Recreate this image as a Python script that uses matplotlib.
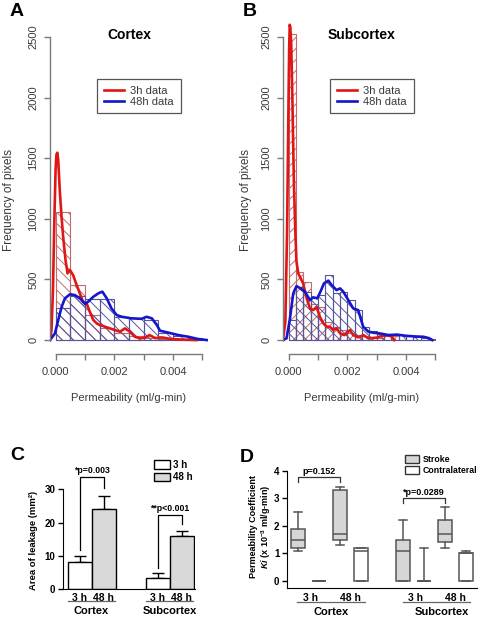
import numpy as np
import matplotlib
matplotlib.use("Agg")
import matplotlib.pyplot as plt
from matplotlib.patches import Patch
from matplotlib.lines import Line2D

plt.rcParams['font.family'] = ['Liberation Sans', 'DejaVu Sans']
plt.rcParams['mathtext.fontset'] = 'custom'
plt.rcParams['mathtext.rm'] = 'Liberation Sans:bold'
plt.rcParams['mathtext.it'] = 'Liberation Sans:bold:italic'
plt.rcParams['mathtext.default'] = 'rm'
plt.rcParams['hatch.linewidth'] = 0.7

# ---- panel A: cortex histograms + density lines
cortex_edges = [0.0, 0.0005, 0.001, 0.0015, 0.002, 0.0025, 0.003, 0.0035, 0.004, 0.0045, 0.005]
cortex_3h_counts = [1060, 455, 210, 100, 62, 30, 15, 8, 5, 2]
cortex_48h_counts = [268, 360, 335, 338, 190, 180, 168, 55, 35, 18]

cortex_3h_x = [-0.0002, -0.00015, -0.0001, -0.00005, -0.00001, 0.00002, 0.00005, 0.00008, 0.00011, 0.00014,
               0.0002, 0.00025, 0.00033, 0.0004, 0.00048, 0.00059, 0.00071, 0.00082, 0.00093, 0.00105,
               0.00116, 0.00128, 0.0014, 0.0015, 0.00168, 0.00185, 0.00202, 0.00219, 0.00236, 0.00253,
               0.0027, 0.00288, 0.00305, 0.0032, 0.0034, 0.00362, 0.00396, 0.0044, 0.0048]
cortex_3h_y = [0, 80, 400, 1000, 1400, 1530, 1545, 1490, 1350, 1210,
               1000, 852, 660, 550, 578, 536, 454, 385, 316, 303,
               234, 165, 137, 124, 110, 96, 82, 69, 96, 69,
               27, 14, 20, 41, 16, 22, 8, 3, 0]
cortex_48h_x = [-0.0002, -0.00003, 0.00008, 0.0002, 0.00031, 0.00048, 0.00065, 0.00082, 0.001, 0.0011,
                0.00128, 0.00145, 0.00159, 0.00174, 0.0019, 0.00208, 0.00225, 0.00259, 0.00293, 0.0031,
                0.00328, 0.00345, 0.00356, 0.00385, 0.00419, 0.00453, 0.00487, 0.00516]
cortex_48h_y = [0, 55, 165, 275, 344, 377, 371, 344, 297, 316,
                357, 385, 399, 344, 261, 206, 192, 179, 175, 192,
                179, 124, 77, 61, 41, 27, 8, 0]

# ---- panel B: subcortex
sub_edges = [0.0, 0.00025, 0.0005, 0.00075, 0.001, 0.00125, 0.0015, 0.00175, 0.002, 0.00225, 0.0025,
             0.00275, 0.003, 0.00325, 0.0035, 0.00375, 0.004, 0.00425, 0.0045, 0.00475, 0.005]
sub_3h_counts = [2520, 560, 480, 300, 270, 150, 110, 85, 60, 45, 35, 20, 20, 35, 30, 0, 0, 0, 0, 0]
sub_48h_counts = [165, 440, 395, 355, 370, 540, 390, 400, 330, 245, 105, 72, 60, 50, 42, 40, 30, 25, 15, 5]

sub_3h_x = [-0.0002, -0.00012, -0.00006, -0.00002, 0.00001, 0.00003, 0.00005, 0.00008, 0.00012, 0.00017,
            0.00022, 0.00026, 0.00032, 0.00049, 0.00061, 0.00072, 0.00083, 0.00095, 0.00106, 0.00118,
            0.0013, 0.0014, 0.00152, 0.00163, 0.00175, 0.0019, 0.00209, 0.0022, 0.00238, 0.00255,
            0.00272, 0.003, 0.0032, 0.0034, 0.0035, 0.0036]
sub_3h_y = [0, 150, 900, 1800, 2400, 2600, 2580, 2450, 2000, 1320,
            900, 650, 550, 467, 344, 261, 247, 270, 192, 137,
            110, 110, 82, 96, 55, 41, 82, 41, 22, 41,
            14, 20, 35, 40, 30, 0]
sub_48h_x = [-0.0002, -0.00008, 0.00003, 0.00015, 0.00026, 0.0004, 0.00055, 0.00072, 0.00083, 0.00097,
             0.00108, 0.0012, 0.00135, 0.00146, 0.00163, 0.00175, 0.00186, 0.00203, 0.0022, 0.00237,
             0.00254, 0.00272, 0.0029, 0.0031, 0.0034, 0.0037, 0.004, 0.0043, 0.0046, 0.0048, 0.0049]
sub_48h_y = [0, 14, 165, 385, 445, 426, 399, 330, 352, 344,
             399, 467, 490, 454, 412, 426, 399, 330, 261, 247,
             110, 69, 60, 55, 41, 45, 35, 30, 27, 15, 0]

# ---- panel C: area of leakage (mean, sem)
c_regions = ['Cortex', 'Subcortex']
c_mean_3h = [8.1, 3.3]
c_err_3h = [1.7, 1.5]
c_mean_48h = [24.1, 15.8]
c_err_48h = [4.0, 1.5]
c_pvals = ['*p=0.003', '**p<0.001']

# ---- panel D: Ki box stats (stroke / contralateral, 3h & 48h, cortex & subcortex)
d_q1 = [1.2, 0, 1.5, 0, 0, 0, 1.4, 0]
d_med = [1.5, 0, 1.7, 1.1, 1.1, 0, 1.7, 1.0]
d_q3 = [1.9, 0, 3.3, 1.2, 1.5, 0, 2.2, 1.0]
d_lo = [1.1, 0, 1.3, 0, 0, 0, 1.2, 0]
d_hi = [2.5, 0, 3.4, 1.2, 2.2, 1.2, 2.7, 1.1]
d_stroke = [True, False, True, False, True, False, True, False]
d_pvals = ['p=0.152', '*p=0.0289']

W, H = 479, 617
fig = plt.figure(figsize=(W / 100, H / 100), dpi=100)


def box(l, t, r, b):
    return [l / W, 1 - b / H, (r - l) / W, (b - t) / H]


def fx(px):
    return px / W


def fy(py):
    return 1 - py / H


GREY = '#7a7a7a'
TXT = '#3a3a3a'


def hist_panel(ax, edges, c3, c48, x3, y3, x48, y48, hatch3, title):
    edges = np.array(edges)
    ax.bar(edges[:-1], c3, width=np.diff(edges), align='edge', fill=False,
           edgecolor='#c46a6a', hatch=hatch3, linewidth=0.8)
    ax.bar(edges[:-1], c48, width=np.diff(edges), align='edge', fill=False,
           edgecolor='#55559c', hatch='\\\\\\', linewidth=0.8)
    ax.plot(x3, y3, color='#e01515', lw=1.9, solid_joinstyle='round')
    ax.plot(x48, y48, color='#1515cc', lw=1.9, solid_joinstyle='round')
    ax.set_xlim(-0.0002, 0.0052)
    ax.set_ylim(-115, 2722)
    for s in ['top', 'right']:
        ax.spines[s].set_visible(False)
    for s in ['left', 'bottom']:
        ax.spines[s].set_color(GREY)
        ax.spines[s].set_linewidth(1.0)
    ax.spines['left'].set_bounds(0, 2500)
    ax.spines['bottom'].set_bounds(0, 0.005)
    ax.set_xticks([0, 0.001, 0.002, 0.003, 0.004, 0.005])
    ax.set_xticklabels(['0.000', '', '0.002', '', '0.004', ''])
    ax.set_yticks([0, 500, 1000, 1500, 2000, 2500])
    ax.tick_params(axis='both', direction='out', length=4.3, width=1, color=GREY,
                   labelcolor=TXT, labelsize=8)
    ax.tick_params(axis='x', pad=5)
    ax.tick_params(axis='y', labelrotation=90, pad=4)
    for lab in ax.get_yticklabels():
        lab.set_va('center')
    ax.set_facecolor('none')
    ax.set_title(title, fontsize=10, fontweight='bold', pad=0, y=0.915)
    handles = [Line2D([], [], color='#e01515', lw=1.9), Line2D([], [], color='#1515cc', lw=1.9)]
    return handles


ax_a = fig.add_axes(box(50, 10, 208, 354))
ax_b = fig.add_axes(box(283, 10, 441, 354))
h = hist_panel(ax_a, cortex_edges, cortex_3h_counts, cortex_48h_counts,
               cortex_3h_x, cortex_3h_y, cortex_48h_x, cortex_48h_y, '\\\\\\', 'Cortex')
hist_panel(ax_b, sub_edges, sub_3h_counts, sub_48h_counts,
           sub_3h_x, sub_3h_y, sub_48h_x, sub_48h_y, '///', 'Subcortex')

for ax, x0 in [(ax_a, 97), (ax_b, 330)]:
    leg = ax.legend(h, ['3h data', '48h data'], loc='upper left', bbox_to_anchor=(fx(x0), fy(79)),
                    bbox_transform=fig.transFigure, borderaxespad=0, fancybox=False, framealpha=1,
                    edgecolor='#555555', fontsize=8, handlelength=1.8, labelspacing=0.1,
                    borderpad=0.6, handletextpad=0.6)
    leg.get_frame().set_linewidth(0.9)
    for t in leg.get_texts():
        t.set_color(TXT)

for x in [9, 246]:
    fig.text(fx(x), fy(200), 'Frequency of pixels', rotation=90, ha='center', va='center',
             fontsize=8.5, color=TXT)
for x in [129, 362]:
    fig.text(fx(x), fy(398), 'Permeability (ml/g-min)', ha='center', va='center',
             fontsize=8, color=TXT)

for letter, x, y in [('A', 17, 12), ('B', 250, 12), ('C', 17, 455), ('D', 247, 458)]:
    fig.text(fx(x), fy(y), letter, ha='center', va='center', fontsize=14, fontweight='bold')

# ---- panel C
ax_c = fig.add_axes(box(63, 466, 195, 589))
pos3 = [0, 3.25]
pos48 = [1, 4.25]
ax_c.bar(pos3, c_mean_3h, width=1, color='white', edgecolor='black', linewidth=1, zorder=2)
ax_c.bar(pos48, c_mean_48h, width=1, color='#d9d9d9', edgecolor='black', linewidth=1, zorder=2)
ax_c.errorbar(pos3, c_mean_3h, yerr=[[0, 0], c_err_3h], fmt='none', ecolor='black',
              elinewidth=1, capsize=4, capthick=1, zorder=1)
ax_c.errorbar(pos48, c_mean_48h, yerr=[[0, 0], c_err_48h], fmt='none', ecolor='black',
              elinewidth=1, capsize=4, capthick=1, zorder=1)
ax_c.set_xlim(-0.6875, 4.81)
ax_c.set_ylim(0, 37)
for s in ['top', 'right']:
    ax_c.spines[s].set_visible(False)
ax_c.spines['left'].set_bounds(0, 30)
ax_c.set_yticks([0, 10, 20, 30])
ax_c.set_xticks(pos3 + pos48)
ax_c.set_xticklabels(['3 h', '3 h', '48 h', '48 h'])
ax_c.tick_params(axis='x', length=0, pad=3, labelsize=7.5)
ax_c.tick_params(axis='y', length=3.5, width=1, pad=2, labelsize=7)
for lab in ax_c.get_xticklabels() + ax_c.get_yticklabels():
    lab.set_fontweight('bold')
tr = ax_c.get_xaxis_transform()
for mid, name in zip([0.5, 3.75], c_regions):
    ax_c.plot([mid - 0.98, mid + 0.98], [-0.098, -0.098], color='#666666', lw=0.9,
              transform=tr, clip_on=False)
    ax_c.text(mid, -0.175, name, transform=tr, ha='center', va='center', fontsize=8,
              fontweight='bold')
# significance brackets
c_brackets = [(0, 1, 33.6, 11.7, 30.3), (3.25, 4.25, 22.2, 6.3, 19.5)]
for (xa, xb, top, la, lb), ptxt in zip(c_brackets, c_pvals):
    ax_c.plot([xa, xa, xb, xb], [la, top, top, lb], color='black', lw=0.9, clip_on=False)
    ax_c.text((xa + xb) / 2, top + 0.8, ptxt, ha='center', va='bottom', fontsize=6.3,
              fontweight='bold', clip_on=False)
legc = ax_c.legend([Patch(facecolor='white', edgecolor='black'), Patch(facecolor='#d9d9d9', edgecolor='black')],
                   ['3 h', '48 h'], loc='upper left', bbox_to_anchor=(fx(154), fy(460)),
                   bbox_transform=fig.transFigure, frameon=False, borderaxespad=0, borderpad=0,
                   prop={'size': 7, 'weight': 'bold'}, handlelength=1.6, handleheight=1.0,
                   labelspacing=0.25, handletextpad=0.4)
fig.text(fx(34), fy(540), 'Area of leakage (mm²)', rotation=90, ha='center', va='center',
         fontsize=6.8, fontweight='bold')

# ---- panel D
ax_d = fig.add_axes(box(287, 457, 477, 588))
d_pos = [0, 1, 2, 3, 5, 6, 7, 8]
stats = []
for i in range(len(d_pos)):
    stats.append({'med': d_med[i], 'q1': d_q1[i], 'q3': d_q3[i],
                  'whislo': d_lo[i], 'whishi': d_hi[i], 'fliers': []})
bp = ax_d.bxp(stats, positions=d_pos, widths=0.67, patch_artist=True, showfliers=False,
              boxprops={'linewidth': 1.1, 'edgecolor': '#555555'},
              medianprops={'color': '#555555', 'linewidth': 1.1},
              whiskerprops={'color': '#555555', 'linewidth': 1.1},
              capprops={'color': '#555555', 'linewidth': 1.1}, capwidths=0.36)
for patch, st in zip(bp['boxes'], d_stroke):
    patch.set_facecolor('#d6d6d6' if st else 'white')
ax_d.set_xlim(-0.524, 8.52)
ax_d.set_ylim(-0.255, 4.5)
for s in ['top', 'right']:
    ax_d.spines[s].set_visible(False)
ax_d.spines['left'].set_bounds(-0.255, 4)
ax_d.set_yticks([0, 1, 2, 3, 4])
ax_d.set_xticks([0.6, 2.5, 5.6, 7.5])
ax_d.set_xticklabels(['3 h', '48 h', '3 h', '48 h'])
ax_d.tick_params(axis='x', length=0, pad=3.5, labelsize=7.5)
ax_d.tick_params(axis='y', length=3.5, width=1, pad=2, labelsize=7)
for lab in ax_d.get_xticklabels() + ax_d.get_yticklabels():
    lab.set_fontweight('bold')
tr = ax_d.get_xaxis_transform()
for (xa, xb), mid, name in zip([(-0.05, 3.19), (5.0, 8.19)], [1.6, 6.85], c_regions):
    ax_d.plot([xa, xb], [-0.107, -0.107], color='#666666', lw=0.9, transform=tr, clip_on=False)
    ax_d.text(mid, -0.185, name, transform=tr, ha='center', va='center', fontsize=8,
              fontweight='bold')
d_brackets = [(0, 2, 3.78, 3.6), (5, 7, 3.02, 2.84)]
for (xa, xb, top, leg_y), ptxt in zip(d_brackets, d_pvals):
    ax_d.plot([xa, xa, xb, xb], [leg_y, top, top, leg_y], color='#333333', lw=0.9, clip_on=False)
    ax_d.text((xa + xb) / 2, top + 0.02, ptxt, ha='center', va='bottom', fontsize=6.5,
              fontweight='bold', clip_on=False)
legd = ax_d.legend([Patch(facecolor='#d6d6d6', edgecolor='#333333'), Patch(facecolor='white', edgecolor='#333333')],
                   ['Stroke', 'Contralateral'], loc='upper left', bbox_to_anchor=(fx(405), fy(455)),
                   bbox_transform=fig.transFigure, frameon=False, borderaxespad=0, borderpad=0,
                   prop={'size': 6.3, 'weight': 'bold'}, handlelength=1.6, handleheight=1.0,
                   labelspacing=0.2, handletextpad=0.4)
fig.text(fx(253), fy(527), 'Permeability Coefficient', rotation=90, ha='center', va='center',
         fontsize=6.5, fontweight='bold')
fig.text(fx(266), fy(527), r'$\mathit{Ki}$ (x 10$^{-3}$ ml/g-min)', rotation=90, ha='center',
         va='center', fontsize=6.5, fontweight='bold')

fig.savefig('out.png', dpi=100)
